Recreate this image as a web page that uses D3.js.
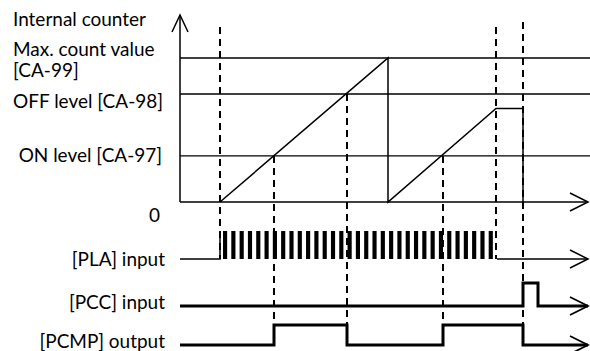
<!DOCTYPE html>
<html>
<head>
<meta charset="utf-8">
<script src="https://cdn.jsdelivr.net/npm/d3@7"></script>
<style>
  html, body { margin: 0; padding: 0; background: #fff; }
  svg { display: block; }
  text { font-family: Lato, "Open Sans", sans-serif; fill: #000; }
</style>
</head>
<body>
<svg id="chart" width="590" height="351"></svg>
<script>
// ---------------- data ----------------
const levelLabels = ["Max. count value", "OFF level [CA-98]", "ON level [CA-97]"];
const levelValues = [100, 75, 32];
const counterTimes  = [4, 20.8, 20.8, 31.6, 34.3, 34.3];
const counterValues = [0, 100, 0, 65, 65, 0];
const eventTimes = [4, 9.4, 16.7, 26.3, 31.6, 34.3];
const signalLabels = ["[PLA] input", "[PCC] input", "[PCMP] output"];
const plaTimes  = [0, 4, 4];
const plaValues = [0, 0, 1];
const plaPulseStart = 4.3, plaPulseEnd = 31.7, plaPulseCount = 33;
const plaTailTimes = [31.7, 40.8];
const pccTimes  = [0, 34.3, 34.3, 35.8, 35.8, 40.8];
const pccValues = [0, 0, 1, 1, 0, 0];
const pcmpTimes  = [0, 9.4, 9.4, 16.7, 16.7, 26.3, 26.3, 34.3, 34.3, 40.8];
const pcmpValues = [0, 0, 1, 1, 0, 0, 1, 1, 0, 0];

// ---------------- layout ----------------
const svg = d3.select("#chart");
const x = d3.scaleLinear().domain([0, 40.8]).range([180, 588]);
const y = d3.scaleLinear().domain([0, 100]).range([202, 58]);
const rows = [
  d3.scaleLinear().domain([0, 1]).range([259, 231]),
  d3.scaleLinear().domain([0, 1]).range([306, 283]),
  d3.scaleLinear().domain([0, 1]).range([345, 325])
];

svg.selectAll("line.level").data(levelValues).join("line")
  .attr("x1", x(0)).attr("x2", 590)
  .attr("y1", d => y(d)).attr("y2", d => y(d))
  .attr("stroke", "#000").attr("stroke-width", 1.4);

svg.append("line").attr("x1", x(0)).attr("x2", x(0)).attr("y1", y(0)).attr("y2", 15)
  .attr("stroke", "#000").attr("stroke-width", 1.5);
svg.append("path").attr("d", `M172,32 L180,15 L188,32`).attr("fill", "none")
  .attr("stroke", "#000").attr("stroke-width", 1.5);
svg.append("line").attr("x1", x(0)).attr("x2", 588).attr("y1", y(0)).attr("y2", y(0))
  .attr("stroke", "#000").attr("stroke-width", 1.5);
function arrowHead(yy, w) {
  svg.append("path").attr("d", `M570,${yy - 9} L588,${yy} L570,${yy + 9}`)
    .attr("fill", "none").attr("stroke", "#000").attr("stroke-width", w || 1.5);
}
arrowHead(y(0), 1.5);

const dashExt = [
  [27, rows[0](0)], [y(32), rows[2](0)], [y(75), rows[2](0)],
  [y(32), rows[2](0)], [27, rows[0](0)], [22, rows[2](0)]
];
svg.selectAll("line.evt").data(eventTimes).join("line")
  .attr("x1", d => x(d)).attr("x2", d => x(d))
  .attr("y1", (d, i) => dashExt[i][0]).attr("y2", (d, i) => dashExt[i][1])
  .attr("stroke", "#000").attr("stroke-width", 2).attr("stroke-dasharray", "7,5");

const counterLine = d3.line().x(d => x(d[0])).y(d => y(d[1]));
svg.append("path").attr("d", counterLine(d3.zip(counterTimes, counterValues)))
  .attr("fill", "none").attr("stroke", "#000").attr("stroke-width", 1.5);

const rowLine = r => d3.line().x(d => x(d[0])).y(d => r(d[1]));
svg.append("path").attr("d", rowLine(rows[0])(d3.zip(plaTimes, plaValues)))
  .attr("fill", "none").attr("stroke", "#000").attr("stroke-width", 1.5);
const period = (plaPulseEnd - plaPulseStart) / plaPulseCount;
svg.selectAll("rect.pulse").data(d3.range(plaPulseCount)).join("rect")
  .attr("x", i => x(plaPulseStart + i * period))
  .attr("width", x(period / 2) - x(0))
  .attr("y", rows[0](1)).attr("height", rows[0](0) - rows[0](1))
  .attr("fill", "#000");
svg.append("path").attr("d", rowLine(rows[0])(plaTailTimes.map(t => [t, 0])))
  .attr("fill", "none").attr("stroke", "#000").attr("stroke-width", 1.5);
arrowHead(rows[0](0), 1.5);

svg.append("path").attr("d", rowLine(rows[1])(d3.zip(pccTimes, pccValues)))
  .attr("fill", "none").attr("stroke", "#000").attr("stroke-width", 3);
arrowHead(rows[1](0), 1.8);

svg.append("path").attr("d", rowLine(rows[2])(d3.zip(pcmpTimes, pcmpValues)))
  .attr("fill", "none").attr("stroke", "#000").attr("stroke-width", 3);
arrowHead(rows[2](0), 1.8);

// ---------------- text ----------------
const probe = svg.append("text").attr("font-size", 20).text("Internal counter");
const fs = 20 * 133 / probe.node().getComputedTextLength();
probe.remove();

function label(txt, xx, yy, anchor) {
  svg.append("text").attr("x", xx).attr("y", yy).attr("font-size", fs)
    .attr("text-anchor", anchor).text(txt);
}
label("Internal counter", 13, 26, "start");
label(levelLabels[0], 13, 56, "start");
label("[CA-99]", 13, 77, "start");
label(levelLabels[1], 163, 108, "end");
label(levelLabels[2], 162, 162, "end");
label("0", 160, 222, "end");
label(signalLabels[0], 165, 266, "end");
label(signalLabels[1], 165, 309, "end");
label(signalLabels[2], 165, 348, "end");
</script>
</body>
</html>
